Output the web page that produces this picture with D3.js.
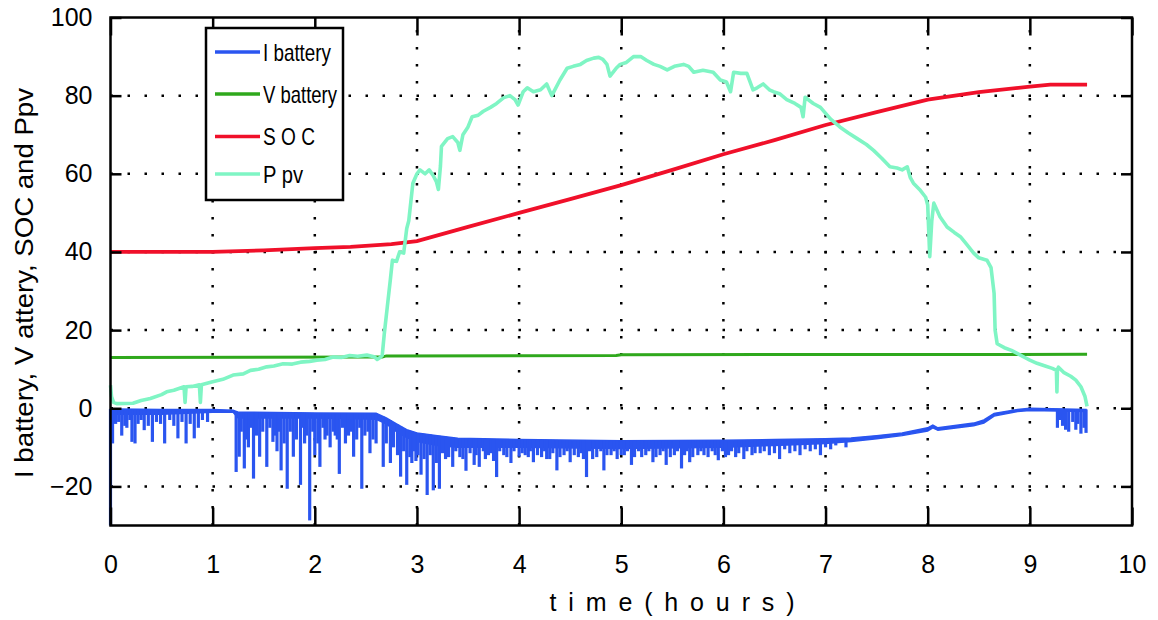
<!DOCTYPE html>
<html>
<head>
<meta charset="utf-8">
<script src="https://cdn.jsdelivr.net/npm/d3@7"></script>
<style>
  body { margin: 0; background: #fff; }
  svg { display: block; font-family: "Liberation Sans", Arial, sans-serif; }
</style>
</head>
<body>
<svg id="chart"></svg>
<script>
// tick values
var xTicks = [0, 1, 2, 3, 4, 5, 6, 7, 8, 9, 10];
var yTicks = [-20, 0, 20, 40, 60, 80, 100];
var seriesNames = ["I battery", "V battery", "S O C", "P pv"];

// V battery  [hours, value]
var vBattery = [[0, 13.0], [2.66, 13.1], [2.7, 13.4], [4.95, 13.5], [5.0, 13.7], [9.56, 13.8]];

// SOC  [hours, value]
var soc = [[0, 40], [1.0, 40], [1.5, 40.4], [2.0, 41], [2.35, 41.3], [2.75, 42], [3.0, 42.8],
  [3.5, 46.4], [4.0, 50], [4.5, 53.5], [5.0, 57.1], [5.5, 61], [6.0, 65], [6.5, 68.6],
  [7.0, 72.5], [7.5, 75.8], [8.0, 79], [8.5, 80.9], [9.0, 82.3], [9.2, 82.8], [9.56, 82.8]];

// P pv  [hours, value]
var ppv = [[0, 5.9], [0.01, 3], [0.03, 1.5], [0.06, 1.2], [0.22, 1.3], [0.3, 2.0], [0.39, 2.5],
  [0.5, 3.5], [0.55, 4.2], [0.62, 4.6], [0.72, 5.5], [0.73, 1.5], [0.74, 5.5], [0.8, 5.6],
  [0.87, 6], [0.88, 1.5], [0.89, 6], [1.0, 6.8], [1.1, 7.4], [1.2, 8.5], [1.3, 8.8], [1.37, 9.7],
  [1.45, 10.0], [1.53, 10.6], [1.6, 10.8], [1.69, 11.4], [1.78, 11.3], [1.86, 11.8], [1.95, 12.0],
  [2.02, 12.3], [2.1, 12.5], [2.18, 13.1], [2.26, 13.0], [2.34, 13.5], [2.42, 13.3], [2.51, 13.6],
  [2.58, 13.2], [2.61, 12.5], [2.64, 13], [2.66, 13.5], [2.68, 19], [2.71, 26], [2.74, 33],
  [2.76, 37.9], [2.8, 37.6], [2.83, 40], [2.87, 39.7], [2.9, 46], [2.92, 48], [2.96, 57.6],
  [3.0, 60], [3.03, 61], [3.08, 60], [3.12, 61], [3.16, 59.5], [3.19, 58], [3.21, 56], [3.23, 62],
  [3.24, 67], [3.3, 69], [3.35, 69.5], [3.4, 68], [3.42, 66], [3.45, 70], [3.5, 72], [3.54, 74.6],
  [3.6, 75], [3.65, 76], [3.72, 77], [3.78, 78], [3.85, 79.5], [3.91, 80], [3.96, 79], [3.99, 77.6],
  [4.04, 81], [4.08, 82], [4.14, 81], [4.21, 81.5], [4.27, 83], [4.32, 80], [4.4, 84], [4.47, 87],
  [4.53, 87.5], [4.6, 88], [4.66, 89], [4.73, 89.6], [4.78, 89.8], [4.82, 89.3], [4.86, 88],
  [4.89, 85], [4.95, 87], [4.99, 88], [5.05, 88.5], [5.12, 90], [5.19, 90], [5.25, 89], [5.32, 88],
  [5.38, 87.5], [5.45, 86.6], [5.52, 87.5], [5.61, 88], [5.66, 87.5], [5.71, 86], [5.8, 86.5],
  [5.9, 86], [5.97, 84], [6.03, 83.5], [6.07, 81], [6.1, 86], [6.17, 85.7], [6.23, 85.7],
  [6.29, 81.5], [6.33, 82], [6.39, 83], [6.45, 81.5], [6.49, 81], [6.55, 80.5], [6.62, 79],
  [6.7, 78], [6.76, 77], [6.78, 74.6], [6.8, 79.6], [6.88, 78], [6.95, 77], [7.05, 74], [7.14, 72],
  [7.22, 70.5], [7.31, 69], [7.4, 67.5], [7.47, 66], [7.55, 64], [7.63, 61.8], [7.7, 61.5],
  [7.75, 61], [7.8, 61.8], [7.83, 59], [7.86, 57.6], [7.92, 56], [7.98, 54], [8.0, 52], [8.02, 38.8],
  [8.04, 48], [8.06, 52.5], [8.12, 49], [8.19, 46.4], [8.26, 45], [8.32, 43.9], [8.38, 42],
  [8.45, 39.7], [8.5, 38.5], [8.58, 37.9], [8.62, 36], [8.65, 29.4], [8.66, 20], [8.68, 16.5],
  [8.75, 15.5], [8.82, 14.8], [8.88, 14], [8.95, 13], [9.0, 12.3], [9.07, 11.5], [9.15, 10.8],
  [9.22, 10.2], [9.26, 9.7], [9.265, 4.2], [9.27, 9.9], [9.28, 10.5], [9.33, 9.2], [9.4, 8.2],
  [9.45, 7.2], [9.5, 5.5], [9.54, 3], [9.56, 0.5]];

// I battery: dense band (upper / lower edge) plus the downward spikes
var iTimes = [0, 0.05, 0.5, 1.0, 1.2, 1.25, 2.0, 2.6, 2.7, 2.8, 2.9, 3.0, 3.2, 3.4, 4.0, 5.0, 6.0,
  6.5, 7.0, 7.25, 7.5, 7.75, 8.0, 8.05, 8.1, 8.45, 8.55, 8.65, 8.88, 9.0, 9.55];
var iTop = [-0.2, -0.2, -0.3, -0.3, -0.5, -1.0, -1.2, -1.3, -2.5, -4, -5.5, -6.3, -7, -7.7, -8,
  -8.3, -8.2, -8, -7.8, -7.6, -7, -6.3, -5, -4.3, -5, -3.8, -3, -1.3, -0.3, 0, -0.3];
var iBottom = [-1.5, -1.5, -1.5, -1.0, -1.0, -2.5, -2.5, -2.8, -4, -6, -7.5, -8.5, -9.5, -10, -10,
  -10.3, -10, -9.5, -9, -8.5, -7.8, -7.0, -5.8, -5, -5.6, -4.5, -3.8, -2.0, -0.8, -0.6, -0.8];
var iSpikes = [[0, -30], [0.02, -9], [0.11, -7], [0.16, -5], [0.21, -8.6], [0.24, -9], [0.33, -5.6],
  [0.41, -8.6], [0.53, -9], [0.66, -7.7], [0.74, -9], [0.82, -7.7], [0.86, -5],
  [1.23, -16.3], [1.26, -12.4], [1.31, -15.4], [1.35, -10], [1.40, -18], [1.46, -12.4], [1.53, -15],
  [1.59, -8.6], [1.63, -11], [1.67, -15.9], [1.73, -20.6], [1.79, -12.4], [1.86, -19.6], [1.9, -9],
  [1.95, -28.7], [2.0, -12], [2.05, -15], [2.1, -8], [2.15, -10], [2.2, -7], [2.24, -16.8], [2.3, -9],
  [2.38, -12.4], [2.46, -20.6], [2.54, -11.5], [2.6, -9], [2.67, -15], [2.74, -14], [2.84, -17.5],
  [2.9, -19.6], [2.95, -14], [2.99, -13.5], [3.04, -17], [3.10, -22.2], [3.16, -21], [3.22, -20.6],
  [3.28, -13], [3.35, -15], [3.42, -12.5], [3.48, -16], [3.56, -14.5], [3.61, -15], [3.7, -12],
  [3.78, -17.6], [3.85, -12], [3.92, -14], [4.0, -12.4], [4.06, -12], [4.14, -13.8], [4.22, -12.5],
  [4.3, -13], [4.37, -15.9], [4.44, -12], [4.5, -13.8], [4.58, -12.5], [4.66, -17.6], [4.72, -13],
  [4.83, -15.9], [4.9, -12], [4.96, -13], [5.03, -12], [5.1, -14.5], [5.2, -12.5], [5.31, -13.8],
  [5.38, -12], [5.44, -14.5], [5.52, -12], [5.59, -15.4], [5.67, -13.8], [5.75, -12], [5.85, -12.5],
  [5.95, -13.3], [6.05, -12], [6.12, -12.5], [6.2, -13], [6.28, -12], [6.36, -11.5], [6.45, -12],
  [6.55, -13], [6.65, -11.5], [6.75, -12], [6.85, -11], [6.95, -12], [7.05, -10.5], [7.2, -10],
  [9.27, -5], [9.32, -4.5], [9.38, -6], [9.45, -5.5], [9.5, -6.5], [9.55, -6.3]];
// the many shallow spikes that make the band look noisy
var iSpikesSmall = [[0.05, -4], [0.08, -3.5], [0.14, -4.5], [0.19, -3], [0.27, -4], [0.3, -3],
  [0.37, -4.5], [0.45, -3.5], [0.49, -4], [0.58, -3], [0.62, -4.5], [0.7, -3.5], [0.78, -4],
  [0.9, -3], [0.95, -3.5], [1.28, -6], [1.33, -8], [1.38, -5], [1.43, -7], [1.49, -6], [1.56, -5],
  [1.61, -7], [1.65, -6], [1.7, -9], [1.76, -6], [1.82, -8], [1.88, -5], [1.92, -7], [1.98, -6],
  [2.03, -9], [2.08, -5], [2.12, -7], [2.18, -6], [2.22, -8], [2.27, -5], [2.33, -7], [2.36, -6],
  [2.41, -8], [2.44, -5], [2.49, -7], [2.52, -6], [2.57, -8], [2.7, -9], [2.77, -10], [2.81, -12],
  [2.87, -11], [2.93, -12.5], [2.97, -11], [3.01, -12], [3.07, -13], [3.13, -12], [3.19, -14],
  [3.25, -11.5], [3.31, -12.5], [3.38, -11], [3.45, -13], [3.52, -11.5], [3.58, -12], [3.65, -11],
  [3.67, -13], [3.73, -11.5], [3.75, -13.5], [3.81, -11], [3.88, -12.5], [3.95, -11], [4.03, -11.5],
  [4.09, -12.5], [4.11, -11], [4.18, -12], [4.25, -11], [4.27, -13], [4.33, -11.5], [4.4, -12.5],
  [4.47, -11], [4.54, -12], [4.61, -11.5], [4.63, -13], [4.69, -11], [4.76, -12.5], [4.8, -11],
  [4.86, -12], [4.93, -11], [5.0, -12], [5.06, -11], [5.13, -12.5], [5.17, -11], [5.24, -12],
  [5.27, -11], [5.34, -12.5], [5.41, -11], [5.48, -12.5], [5.55, -11], [5.62, -12], [5.64, -11],
  [5.7, -12.5], [5.78, -11], [5.81, -12], [5.89, -11], [5.92, -12], [5.99, -11], [6.02, -12.5],
  [6.08, -11], [6.15, -11.5], [6.23, -11], [6.31, -11.5], [6.4, -11], [6.5, -11.5], [6.6, -10.5],
  [6.7, -11], [6.8, -10.5], [6.9, -10.5], [7.0, -10], [7.1, -9.5], [9.3, -3], [9.35, -5.5],
  [9.42, -3.5], [9.47, -4], [9.53, -5]];

var colors = ["#2a55f0", "#2fa81c", "#f0102a", "#7ff5c4"];

var W = 1158, H = 620;
var margin = {left: 110.5, right: 26, top: 17.5, bottom: 94.5};

var svg = d3.select("#chart").attr("width", W).attr("height", H);

var x = d3.scaleLinear().domain([0, 10]).range([margin.left, W - margin.right]);
var y = d3.scaleLinear().domain([-30, 100]).range([H - margin.bottom, margin.top]);

// grid
var grid = svg.append("g").attr("stroke", "#000").attr("stroke-width", 2.5)
  .attr("stroke-dasharray", "2.5,14.5");
grid.selectAll(".gx").data(xTicks.slice(1, -1)).enter().append("line")
  .attr("x1", function(d) { return x(d); }).attr("x2", function(d) { return x(d); })
  .attr("y1", y(-30)).attr("y2", y(100));
grid.selectAll(".gy").data(yTicks.slice(0, -1)).enter().append("line")
  .attr("y1", function(d) { return y(d); }).attr("y2", function(d) { return y(d); })
  .attr("x1", x(0)).attr("x2", x(10));

// I battery
var topAt = d3.scaleLinear().domain(iTimes).range(iTop);
var band = iTimes.map(function(t, i) { return [t, iTop[i], iBottom[i]]; });
svg.append("path").datum(band)
  .attr("fill", colors[0]).attr("stroke", colors[0]).attr("stroke-width", 1.5)
  .attr("d", d3.area()
    .x(function(d) { return x(d[0]); })
    .y0(function(d) { return y(d[2]); })
    .y1(function(d) { return y(d[1]); }));
svg.append("g").attr("stroke", colors[0]).attr("stroke-width", 3.2)
  .selectAll("line").data(iSpikes.concat(iSpikesSmall)).enter().append("line")
  .attr("x1", function(d) { return x(d[0]); }).attr("x2", function(d) { return x(d[0]); })
  .attr("y1", function(d) { return y(topAt(d[0])); })
  .attr("y2", function(d) { return y(d[1]); });

var line = d3.line().x(function(d) { return x(d[0]); }).y(function(d) { return y(d[1]); });

svg.append("path").datum(vBattery).attr("fill", "none")
  .attr("stroke", colors[1]).attr("stroke-width", 3).attr("d", line);
svg.append("path").datum(soc).attr("fill", "none")
  .attr("stroke", colors[2]).attr("stroke-width", 3.8).attr("d", line);
svg.append("path").datum(ppv).attr("fill", "none")
  .attr("stroke", colors[3]).attr("stroke-width", 3.6).attr("stroke-linejoin", "round").attr("d", line);

// axes
function styleAxis(g) {
  g.select(".domain").remove();
  g.selectAll(".tick line").attr("stroke", "#000").attr("stroke-width", 2.5);
  g.selectAll("text").attr("fill", "#000").style("font-size", "25px")
    .style("font-family", "'Liberation Sans', Arial, sans-serif");
}
svg.append("g").attr("transform", "translate(0," + y(-30) + ")")
  .call(d3.axisBottom(x).tickValues(xTicks).tickSizeInner(-18).tickSizeOuter(0).tickPadding(30)
    .tickFormat(d3.format("d")))
  .call(styleAxis);
svg.append("g").attr("transform", "translate(0," + y(100) + ")")
  .call(d3.axisTop(x).tickValues(xTicks).tickSizeInner(-18).tickSizeOuter(0).tickFormat(""))
  .call(styleAxis);
svg.append("g").attr("transform", "translate(" + x(0) + ",0)")
  .call(d3.axisLeft(y).tickValues(yTicks).tickSizeInner(-11).tickSizeOuter(0).tickPadding(18)
    .tickFormat(d3.format("d")))
  .call(styleAxis);
svg.append("g").attr("transform", "translate(" + x(10) + ",0)")
  .call(d3.axisRight(y).tickValues(yTicks).tickSizeInner(-11).tickSizeOuter(0).tickFormat(""))
  .call(styleAxis);

svg.append("rect")
  .attr("x", x(0)).attr("y", y(100)).attr("width", x(10) - x(0)).attr("height", y(-30) - y(100))
  .attr("fill", "none").attr("stroke", "#000").attr("stroke-width", 2.5);

// axis titles
svg.append("text").attr("x", 672).attr("y", 611).attr("text-anchor", "middle")
  .attr("textLength", 245).attr("lengthAdjust", "spacing")
  .style("font-size", "25px").text("time(hours)");
svg.append("text").attr("transform", "translate(33,283) rotate(-90)").attr("text-anchor", "middle")
  .attr("textLength", 390).attr("lengthAdjust", "spacingAndGlyphs")
  .style("font-size", "25px").text("I battery, V attery, SOC and Ppv");

// legend
var legend = svg.append("g");
legend.append("rect").attr("x", 206).attr("y", 28).attr("width", 137).attr("height", 172)
  .attr("fill", "#fff").attr("stroke", "#000").attr("stroke-width", 2.5);
var legendY = [52, 94, 136.5, 174];
var legendW = [68, 74, 52, 40];
var items = legend.selectAll(".item").data(seriesNames).enter().append("g")
  .attr("transform", function(d, i) { return "translate(0," + legendY[i] + ")"; });
items.append("line").attr("x1", 215).attr("x2", 260)
  .attr("stroke", function(d, i) { return colors[i]; }).attr("stroke-width", 3.5);
items.append("text").attr("x", 263).attr("dy", "0.36em")
  .attr("textLength", function(d, i) { return legendW[i]; }).attr("lengthAdjust", "spacingAndGlyphs")
  .style("font-size", "24px").text(function(d) { return d; });
</script>
</body>
</html>
